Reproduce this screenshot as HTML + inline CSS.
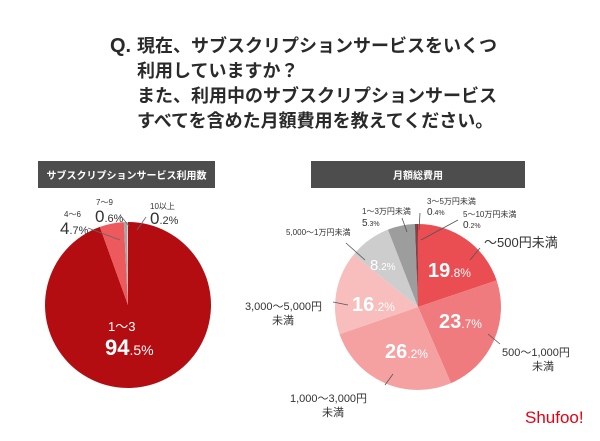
<!DOCTYPE html>
<html><head><meta charset="utf-8"><style>
html,body{margin:0;padding:0;background:#fff}
svg{display:block}
text{font-family:"Liberation Sans","Noto Sans CJK JP",sans-serif}
</style></head><body>
<svg id="s" width="600" height="441" viewBox="0 0 600 441">
<g fill="#2a2a2a" font-weight="bold" font-size="18">
<text x="110" y="52" font-family="Liberation Sans,sans-serif" font-size="20">Q.</text>
<text x="137" y="52">現在、サブスクリプションサービスをいくつ</text>
<text x="137" y="77">利用していますか？</text>
<text x="137" y="102">また、利用中のサブスクリプションサービス</text>
<text x="137" y="127">すべてを含めた月額費用を教えてください。</text>
</g>
<rect x="38" y="161" width="177" height="27" fill="#4d4d4d"/>
<text x="126.5" y="179" text-anchor="middle" fill="#fff" font-size="10" font-weight="bold">サブスクリプションサービス利用数</text>
<rect x="311" y="161" width="214" height="27" fill="#4d4d4d"/>
<text x="418" y="179" text-anchor="middle" fill="#fff" font-size="10" font-weight="bold">月額総費用</text>
<g id="left"></g><g id="right"></g>
<g fill="#333">
<text x="64" y="217" font-size="8">4〜6</text>
<text x="60" y="234" font-size="17">4<tspan font-size="11">.7%</tspan></text>
<text x="96" y="205" font-size="8">7〜9</text>
<text x="95" y="222" font-size="17">0<tspan font-size="11">.6%</tspan></text>
<text x="150" y="209" font-size="8">10以上</text>
<text x="150" y="224" font-size="17">0<tspan font-size="11">.2%</tspan></text>
<line x1="88" y1="228" x2="120" y2="240" stroke="#666" stroke-width="0.8"/>
<line x1="120" y1="215" x2="129" y2="226" stroke="#666" stroke-width="0.8"/>
<line x1="146" y1="217" x2="137" y2="230" stroke="#666" stroke-width="0.8"/>
<text x="108" y="331" font-size="13" fill="#fff">1〜3</text>
<text x="105" y="355" font-size="22" font-weight="bold" fill="#fff">94<tspan font-size="14" font-weight="normal">.5%</tspan></text>
</g>
<g fill="#333">
<text x="427" y="204" font-size="8">3〜5万円未満</text>
<text x="427" y="215" font-size="10">0<tspan font-size="7">.4%</tspan></text>
<text x="463" y="217" font-size="8">5〜10万円未満</text>
<text x="463" y="228" font-size="10">0<tspan font-size="7">.2%</tspan></text>
<text x="362" y="214" font-size="8">1〜3万円未満</text>
<text x="362" y="226" font-size="10">5<tspan font-size="7">.3%</tspan></text>
<text x="286" y="235" font-size="8">5,000〜1万円未満</text>
<text x="484" y="247" font-size="13">〜500円未満</text>
<text x="245" y="310" font-size="11">3,000〜5,000円</text>
<text x="272" y="324" font-size="11">未満</text>
<text x="502" y="356" font-size="11">500〜1,000円</text>
<text x="532" y="370" font-size="11">未満</text>
<text x="290" y="402" font-size="11">1,000〜3,000円</text>
<text x="322" y="416" font-size="11">未満</text>
<line x1="420" y1="213" x2="419" y2="230" stroke="#555" stroke-width="0.8"/>
<line x1="458" y1="220" x2="421" y2="240" stroke="#555" stroke-width="0.8"/>
<line x1="402" y1="218" x2="407" y2="232" stroke="#555" stroke-width="0.8"/>
<line x1="346" y1="243" x2="365" y2="260" stroke="#555" stroke-width="0.8"/>
<line x1="480" y1="248" x2="470" y2="260" stroke="#555" stroke-width="0.8"/>
<line x1="333" y1="302" x2="348" y2="305" stroke="#555" stroke-width="0.8"/>
<line x1="500" y1="344" x2="488" y2="334" stroke="#555" stroke-width="0.8"/>
<line x1="385" y1="385" x2="393" y2="374" stroke="#555" stroke-width="0.8"/>
<g fill="#fff">
<text x="428" y="277" font-size="20" font-weight="bold">19<tspan font-size="12" font-weight="normal">.8%</tspan></text>
<text x="439" y="328" font-size="20" font-weight="bold">23<tspan font-size="12" font-weight="normal">.7%</tspan></text>
<text x="385" y="358" font-size="20" font-weight="bold">26<tspan font-size="12" font-weight="normal">.2%</tspan></text>
<text x="352" y="311" font-size="20" font-weight="bold">16<tspan font-size="12" font-weight="normal">.2%</tspan></text>
<text x="370" y="270" font-size="15">8<tspan font-size="10">.2%</tspan></text>
</g>
</g>
<text x="525" y="423" font-size="17" fill="#e60012" font-family="Liberation Sans,sans-serif">Shufoo!</text>
</svg>
<script>
const leftCategories=["1〜3","4〜6","7〜9","10以上"];
const leftValues=[94.5,4.7,0.6,0.2];
const leftColors=["#b30d12","#ec5a5e","#a5a5a5","#d0d0d0"];
const rightCategories=["〜500円未満","500〜1,000円未満","1,000〜3,000円未満","3,000〜5,000円未満","5,000〜1万円未満","1〜3万円未満","3〜5万円未満","5〜10万円未満"];
const rightValues=[19.8,23.7,26.2,16.2,8.2,5.3,0.4,0.2];
const rightColors=["#ea4d52","#f07b7e","#f5a1a2","#f8bebe","#cdcdcd","#9d9d9d","#555555","#d01018"];
function pie(gid,cx,cy,r,vals,cols,cats,name){
  const g=document.getElementById(gid);
  const tot=vals.reduce((a,b)=>a+b,0);
  let a0=-Math.PI/2;
  vals.forEach((v,i)=>{
    const a1=a0+v/tot*2*Math.PI;
    const x0=cx+r*Math.cos(a0),y0=cy+r*Math.sin(a0),x1=cx+r*Math.cos(a1),y1=cy+r*Math.sin(a1);
    const p=document.createElementNS("http://www.w3.org/2000/svg","path");
    p.setAttribute("d",`M${cx},${cy}L${x0},${y0}A${r},${r} 0 ${a1-a0>Math.PI?1:0} 1 ${x1},${y1}Z`);
    p.setAttribute("fill",cols[i]);
    
    
    g.appendChild(p);
    a0=a1;
  });
}
pie("left",128,305,83,leftValues,leftColors,leftCategories,"left");
pie("right",418,307,83,rightValues,rightColors,rightCategories,"right");
</script>
</body></html>
